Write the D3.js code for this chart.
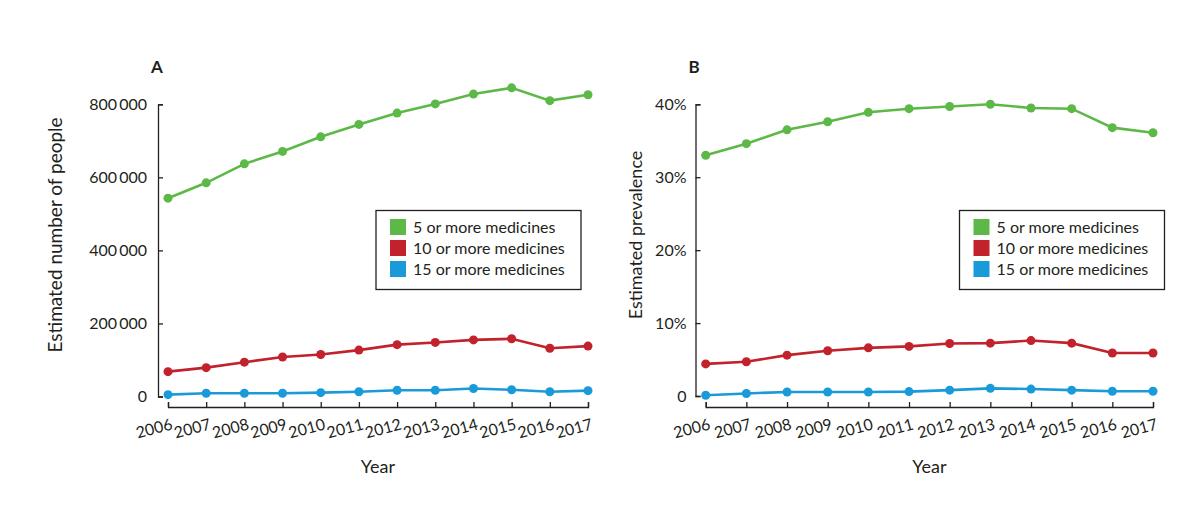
<!DOCTYPE html>
<html>
<head>
<meta charset="utf-8">
<script src="https://cdn.jsdelivr.net/npm/d3@7"></script>
<style>
  body { margin: 0; background: #fff; }
  svg { display: block; font-family: Lato, "Open Sans", sans-serif; }
  .axis path, .axis line { stroke: #231f20; stroke-width: 1.3; }
  .axis text { fill: #231f20; font-size: 16px; font-family: Lato, sans-serif; }
</style>
</head>
<body>
<svg id="chart" width="1200" height="518"></svg>
<script>
// data
var years = [2006, 2007, 2008, 2009, 2010, 2011, 2012, 2013, 2014, 2015, 2016, 2017];

var countFive = [543000, 585000, 637000, 671000, 711000, 745000, 776000, 801000, 828000, 845000, 810000, 826000];
var countTen = [68000, 79000, 94000, 108000, 115000, 127000, 142000, 148000, 155000, 158000, 132000, 138000];
var countFifteen = [5000, 9000, 9000, 9000, 10500, 13000, 17000, 17000, 22000, 18500, 13000, 16000];

var prevFive = [33.0, 34.6, 36.5, 37.6, 38.9, 39.4, 39.7, 40.0, 39.5, 39.4, 36.8, 36.1];
var prevTen = [4.4, 4.7, 5.6, 6.2, 6.6, 6.8, 7.2, 7.25, 7.6, 7.25, 5.9, 5.9];
var prevFifteen = [0.1, 0.35, 0.55, 0.55, 0.55, 0.6, 0.8, 1.05, 0.95, 0.8, 0.65, 0.65];

var countTicks = [0, 200000, 400000, 600000, 800000];
var prevTicks = [0, 10, 20, 30, 40];

var seriesNames = ["5 or more medicines", "10 or more medicines", "15 or more medicines"];
var seriesColors = ["#5cb947", "#c1222b", "#1a9ad9"];

var svg = d3.select("#chart");

function drawPanel(opt) {
    var g = svg.append("g");

    var x = d3.scalePoint().domain(years).range([opt.x0, opt.x1]);
    var y = d3.scaleLinear().domain([0, opt.ymax]).range([opt.yBottom, opt.yTop]);

    // y axis, ticks pointing inwards
    g.append("g")
        .attr("class", "axis")
        .attr("transform", "translate(" + opt.yAxisX + ",0)")
        .call(d3.axisLeft(y).tickValues(opt.ticks).tickSize(-5).tickPadding(opt.pad).tickFormat(opt.fmt));

    // x axis
    var xa = g.append("g")
        .attr("class", "axis")
        .attr("transform", "translate(0," + opt.xAxisY + ")")
        .call(d3.axisBottom(x).tickSize(-5).tickFormat(""));

    xa.selectAll(".tick")
        .append("text")
        .attr("text-anchor", "end")
        .attr("transform", "translate(5,22) rotate(-15)")
        .attr("fill", "#231f20")
        .text(function(d) { return d; });

    // panel letter
    g.append("text")
        .attr("x", opt.yAxisX - 7)
        .attr("y", 73)
        .attr("font-size", 17)
        .attr("font-weight", "bold")
        .attr("fill", "#231f20")
        .text(opt.letter);

    // axis titles
    g.append("text")
        .attr("transform", "translate(" + opt.titleX + ",235) rotate(-90)")
        .attr("text-anchor", "middle")
        .attr("font-size", opt.titleSize)
        .attr("fill", "#231f20")
        .text(opt.title);

    g.append("text")
        .attr("x", (opt.x0 + opt.x1) / 2)
        .attr("y", 473)
        .attr("text-anchor", "middle")
        .attr("font-size", 18)
        .attr("fill", "#231f20")
        .text("Year");

    var line = d3.line()
        .x(function(d, i) { return x(years[i]); })
        .y(function(d) { return y(d); });

    opt.series.forEach(function(vals, k) {
        g.append("path")
            .datum(vals)
            .attr("d", line)
            .attr("fill", "none")
            .attr("stroke", seriesColors[k])
            .attr("stroke-width", 2.6);

        g.selectAll(".dot" + k)
            .data(vals)
            .enter().append("circle")
            .attr("cx", function(d, i) { return x(years[i]); })
            .attr("cy", function(d) { return y(d); })
            .attr("r", 4.5)
            .attr("fill", seriesColors[k]);
    });

    // legend
    var lg = g.append("g").attr("transform", "translate(" + opt.legX + "," + opt.legY + ")");
    lg.append("rect")
        .attr("width", 205)
        .attr("height", 79)
        .attr("fill", "#fff")
        .attr("stroke", "#231f20")
        .attr("stroke-width", 1.3);
    seriesNames.forEach(function(name, k) {
        lg.append("rect")
            .attr("x", 14)
            .attr("y", 8.5 + k * 21)
            .attr("width", 16)
            .attr("height", 16)
            .attr("fill", seriesColors[k]);
        lg.append("text")
            .attr("x", 37)
            .attr("y", 22.5 + k * 21)
            .attr("font-size", 16)
            .attr("fill", "#231f20")
            .text(name);
    });
}

drawPanel({
    letter: "A",
    x0: 168, x1: 588,
    yTop: 104.3, yBottom: 396.5,
    yAxisX: 158, xAxisY: 407,
    ymax: 800000,
    ticks: countTicks,
    pad: 11,
    fmt: function(d) { return d === 0 ? "0" : d3.format(",")(d).replace(",", "\u2009"); },
    title: "Estimated number of people",
    titleX: 62,
    titleSize: 19,
    series: [countFive, countTen, countFifteen],
    legX: 376, legY: 210.5
});

drawPanel({
    letter: "B",
    x0: 705.7, x1: 1153,
    yTop: 104.3, yBottom: 396,
    yAxisX: 695.5, xAxisY: 407,
    ymax: 40,
    ticks: prevTicks,
    pad: 9,
    fmt: function(d) { return d === 0 ? "0" : d + "%"; },
    title: "Estimated prevalence",
    titleX: 642,
    titleSize: 18,
    series: [prevFive, prevTen, prevFifteen],
    legX: 959.5, legY: 210.5
});
</script>
</body>
</html>
